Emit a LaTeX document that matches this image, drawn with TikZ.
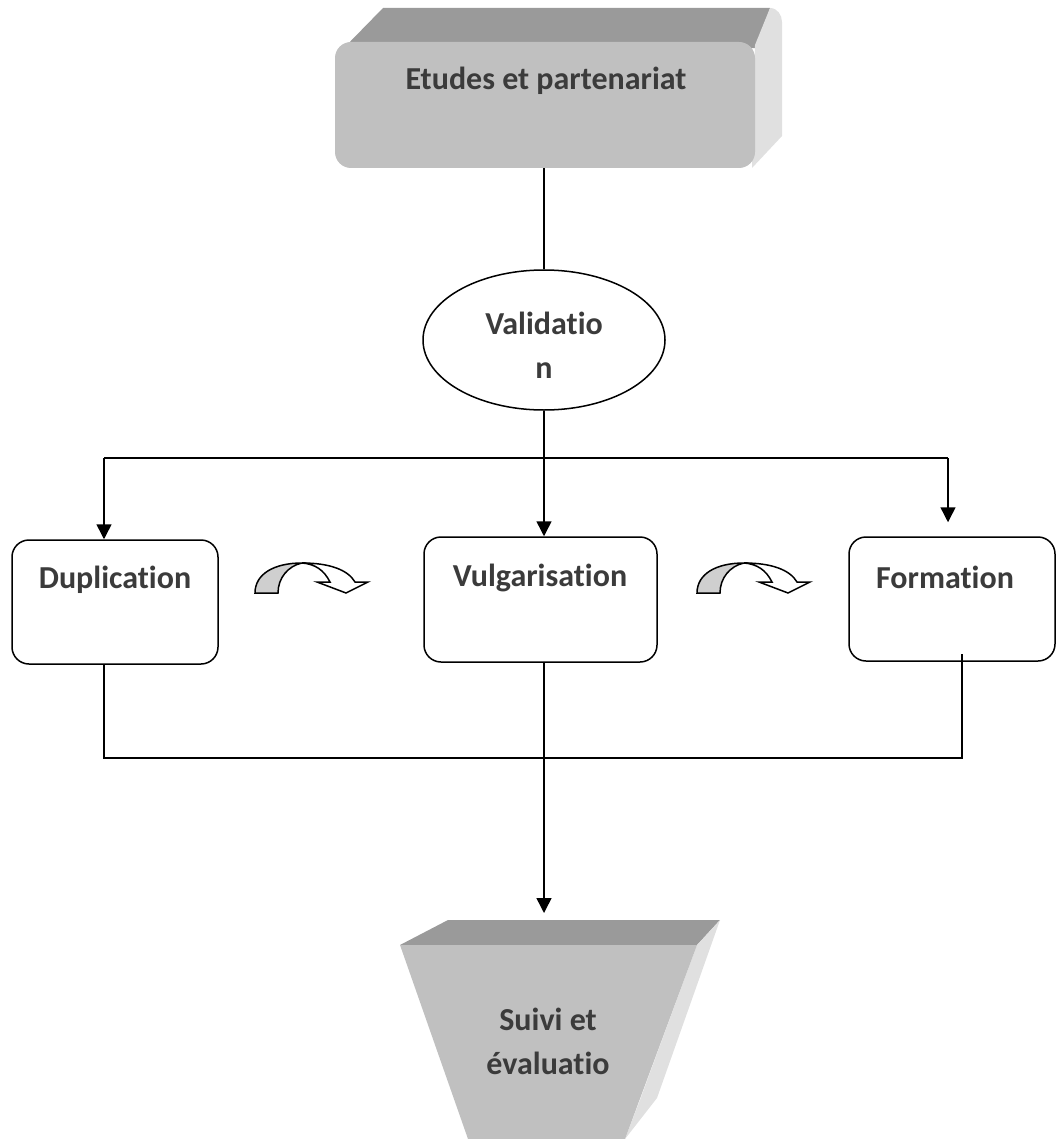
\documentclass[tikz,border=0pt]{standalone}
\usepackage{fontspec}
\setmainfont{Carlito}[Ligatures=NoCommon]
\usetikzlibrary{shapes.geometric,arrows.meta,calc}
\definecolor{txt}{HTML}{3B3B3B}
\definecolor{front}{HTML}{C0C0C0}
\definecolor{topf}{HTML}{9A9A9A}
\definecolor{side}{HTML}{E0E0E0}
\definecolor{arcgray}{HTML}{CFCFCF}
\tikzset{
  lbl/.style={font=\fontsize{32}{44}\selectfont\bfseries, text=txt, inner sep=0pt, align=center},
  procbox/.style={draw=black, line width=1.5pt, rounded corners=17pt, fill=white, inner sep=0pt},
  conn/.style={draw=black, line width=1.5pt},
  arr/.style={conn, -{Triangle[length=15pt,width=15pt]}},
  curvarr/.style={draw=black, line width=1.5pt, line join=miter}
}
\begin{document}
\begin{tikzpicture}[x=1pt,y=-1pt]
\useasboundingbox (0,0) rectangle (1057,1139);
% ---- top 3D box
\fill[topf] (340,52) -- (383,8) -- (770,8) -- (757,48) -- cycle;
\fill[side] (755,45) -- (770,8) to[out=0,in=90] (782,22) -- (782,136) -- (752,168) -- cycle;
\node[fill=front, rounded corners=16pt, minimum width=420pt, minimum height=126pt, inner sep=0pt] (top) at (545,105) {};
\node[lbl] (toptxt) at (546,81) {Etudes et partenariat};
% ---- ellipse
\node[ellipse, draw=black, line width=1.5pt, minimum width=242pt, minimum height=140pt, inner sep=0pt] (val) at (544,340) {};
\node[lbl] (valtxt) at (544,345) {Validatio\\n};
% ---- process boxes
\node[procbox, minimum width=206pt, minimum height=124pt] (dup) at (115,602) {};
\node[lbl] (duptxt) at (115,580) {Duplication};
\node[procbox, minimum width=233pt, minimum height=125pt] (vul) at (540.5,599.5) {};
\node[lbl] (vultxt) at (540,578) {Vulgarisation};
\node[procbox, minimum width=206pt, minimum height=124pt] (form) at (952,599) {};
\node[lbl] (formtxt) at (945,577) {Formation};
% ---- bottom trapezoid
\fill[topf] (400,945) -- (448,920) -- (720,920) -- (697,945) -- cycle;
\fill[side] (697,945) -- (720,920) -- (657,1098) -- (625,1139) -- (640,1100) -- cycle;
\fill[front] (400,945) -- (697,945) -- (625,1139) -- (468,1139) -- cycle;
\coordinate (suivi) at (544,913);
\node[lbl] (suivitxt) at (548,1041) {Suivi et\\évaluatio};
% ---- connectors
\coordinate (split) at (544,458);
\coordinate (L) at (104,458);
\coordinate (R) at (948,458);
\draw[conn] (top.south -| val.north) -- (val.north);
\draw[conn] (val.south) -- (split);
\draw[conn] (L) -- (R);
\draw[arr] (L) -- (L |- dup.north);
\draw[arr] (split) -- (split |- vul.north);
\draw[arr] (R) -- ($(R |- form.north)+(0,-14)$);
\coordinate (B1) at (104,758);
\coordinate (B2) at (544,758);
\coordinate (B3) at (962,758);
\coordinate (F3) at (962,654);
\draw[conn] (B1 |- dup.south) -- (B1) -- (B3) -- (F3);
\draw[conn] (B2 |- vul.south) -- (B2);
\draw[arr] (B2) -- (suivi);
% ---- curved arrows
\foreach \dx in {0,442}{
\begin{scope}[xshift=\dx pt]
\draw[curvarr, fill=white] (302,563) .. controls (330,563) and (348,570) .. (355,582) -- (368,582) -- (346,593) -- (317,582) -- (330,582) .. controls (324,570) and (315,564) .. (302,563) -- cycle;
\draw[curvarr, fill=arcgray] (255,593) .. controls (255,574) and (274,563) .. (302,563) .. controls (288,566) and (278,578) .. (278,593) -- cycle;
\end{scope}}
\end{tikzpicture}
\end{document}
